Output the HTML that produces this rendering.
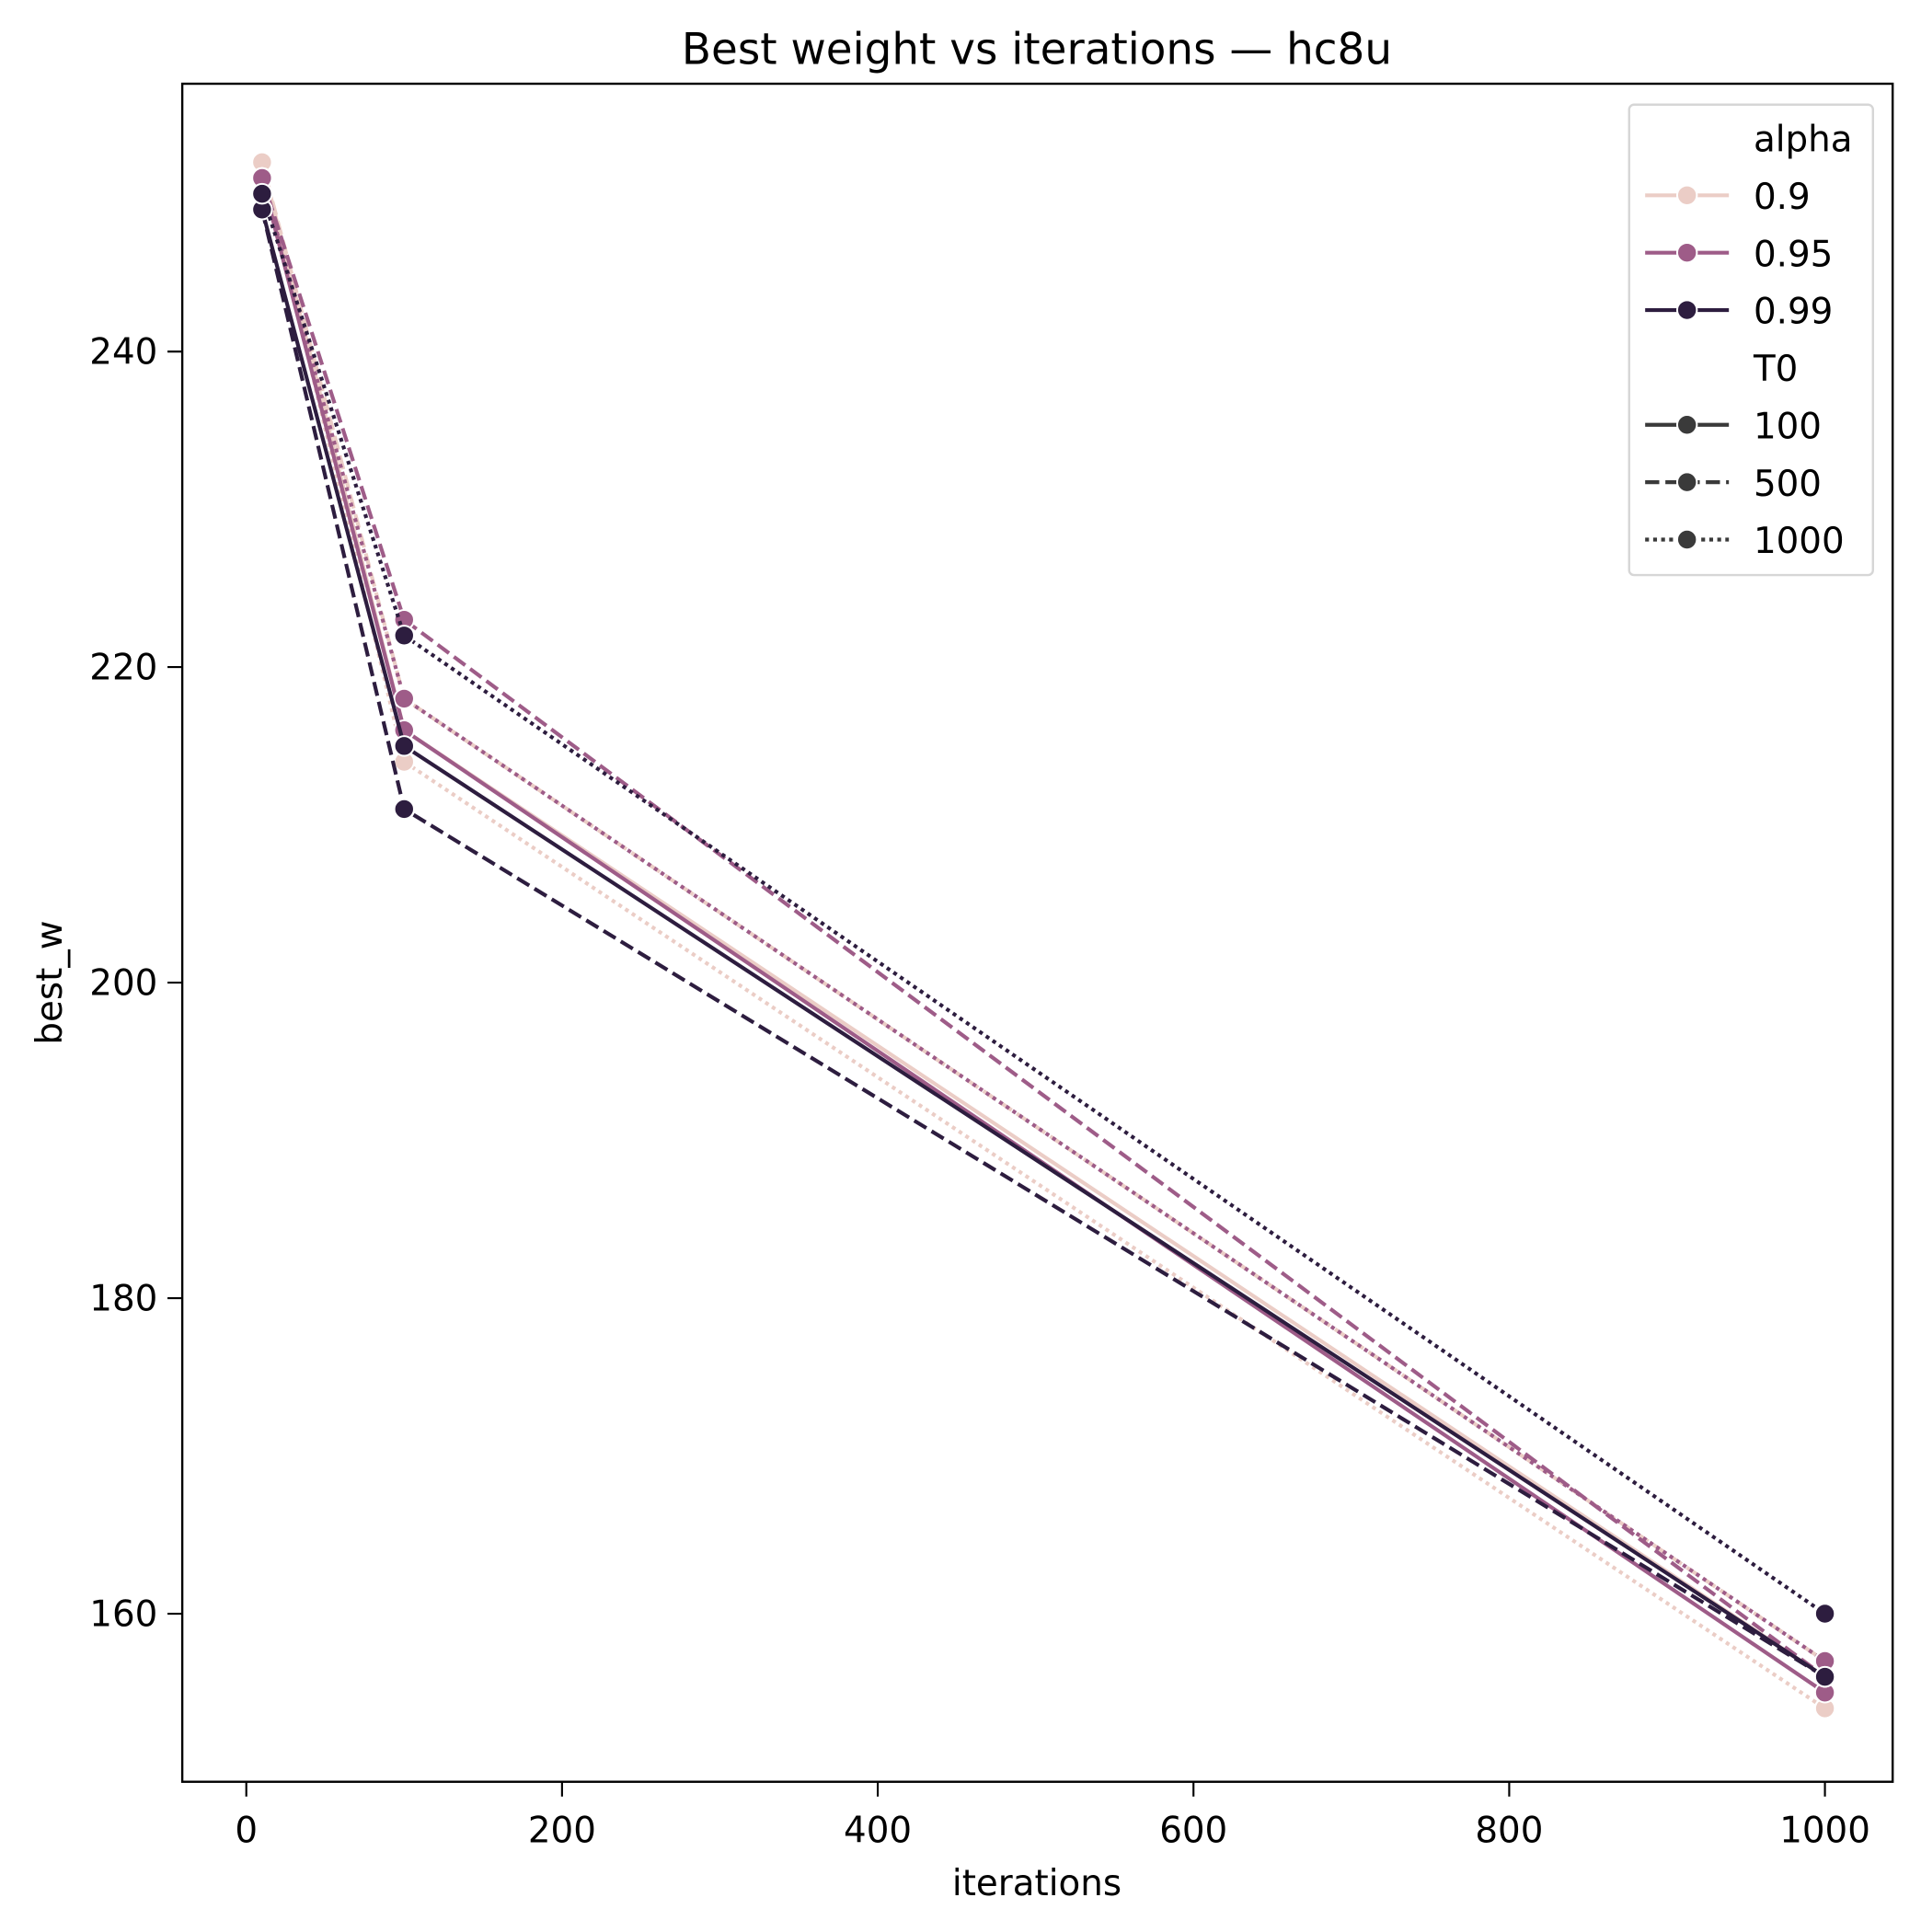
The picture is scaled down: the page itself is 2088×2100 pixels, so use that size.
<!DOCTYPE html>
<html><head><meta charset="utf-8"><style>
html,body{margin:0;padding:0;background:#fff}
svg{display:block}
text{font-family:"DejaVu Sans","Liberation Sans",sans-serif;fill:#000}
</style></head><body>
<svg id="chart" width="2088" height="2100" viewBox="0 0 1560 1569" xmlns="http://www.w3.org/2000/svg">
<rect x="0" y="0" width="1560" height="1569" fill="#fff"/>
<text x="842" y="52" font-size="35" text-anchor="middle">Best weight vs iterations — hc8u</text>
<g id="ticks"></g>
<g id="series"></g>
<rect x="148" y="68" width="1389" height="1379" fill="none" stroke="#000" stroke-width="1.8"/>
<text x="842" y="1539" font-size="29" text-anchor="middle">iterations</text>
<text x="50" y="798" font-size="29" text-anchor="middle" transform="rotate(-90 50 798)">best_w</text>
<g id="legend"></g>
</svg>
<script>
const xTicks = [0, 200, 400, 600, 800, 1000];
const yTicks = [160, 180, 200, 220, 240];
const iterations = [10, 100, 1000];
const alphas = ["0.9", "0.95", "0.99"];
const t0s = ["100", "500", "1000"];
const a09_t100 = [252, 216, 156];
const a09_t500 = [252, 218, 157];
const a09_t1000 = [252, 214, 154];
const a095_t100 = [251, 216, 155];
const a095_t500 = [251, 223, 156];
const a095_t1000 = [251, 218, 157];
const a099_t100 = [249, 215, 156];
const a099_t500 = [249, 211, 156];
const a099_t1000 = [250, 222, 160];
const seriesValues = [
  [a09_t100, a09_t500, a09_t1000],
  [a095_t100, a095_t500, a095_t1000],
  [a099_t100, a099_t500, a099_t1000]
];

const NS = "http://www.w3.org/2000/svg";
const colors = ["#ebcdc6", "#9e5c88", "#2d1d3f"];
const lw = 3.1;
const dashes = ["", (3.7*lw)+","+(1.6*lw), (1*lw)+","+(1.1*lw)];
function xs(v){ return 200 + (v - 0) * (1482 - 200) / 1000; }
function ys(v){ return 798 - (v - 200) * (1310 - 285) / 80; }

const tg = document.getElementById('ticks');
xTicks.forEach(t => {
  const l = document.createElementNS(NS, 'line');
  l.setAttribute('x1', xs(t)); l.setAttribute('x2', xs(t));
  l.setAttribute('y1', 1447); l.setAttribute('y2', 1459);
  l.setAttribute('stroke', '#000'); l.setAttribute('stroke-width', 1.6);
  
  
  tg.appendChild(l);
  const tx = document.createElementNS(NS, 'text');
  tx.setAttribute('x', xs(t)); tx.setAttribute('y', 1496);
  tx.setAttribute('font-size', 29); tx.setAttribute('text-anchor', 'middle');
  tx.textContent = t;
  
  
  tg.appendChild(tx);
});
yTicks.forEach(t => {
  const l = document.createElementNS(NS, 'line');
  l.setAttribute('x1', 136); l.setAttribute('x2', 148);
  l.setAttribute('y1', ys(t)); l.setAttribute('y2', ys(t));
  l.setAttribute('stroke', '#000'); l.setAttribute('stroke-width', 1.6);
  
  
  tg.appendChild(l);
  const tx = document.createElementNS(NS, 'text');
  tx.setAttribute('x', 128); tx.setAttribute('y', ys(t) + 10);
  tx.setAttribute('font-size', 29); tx.setAttribute('text-anchor', 'end');
  tx.textContent = t;
  
  
  tg.appendChild(tx);
});

const sg = document.getElementById('series');
seriesValues.forEach((row, ai) => {
  row.forEach((vals, ti) => {
    const p = document.createElementNS(NS, 'polyline');
    p.setAttribute('points', vals.map((v, i) => xs(iterations[i]) + ',' + ys(v)).join(' '));
    p.setAttribute('fill', 'none');
    p.setAttribute('stroke', colors[ai]);
    p.setAttribute('stroke-width', lw);
    if (dashes[ti]) p.setAttribute('stroke-dasharray', dashes[ti]);
    
    
    sg.appendChild(p);
    vals.forEach((v, i) => {
      const c = document.createElementNS(NS, 'circle');
      c.setAttribute('cx', xs(iterations[i])); c.setAttribute('cy', ys(v));
      c.setAttribute('r', 8);
      c.setAttribute('fill', colors[ai]);
      c.setAttribute('stroke', '#fff'); c.setAttribute('stroke-width', 1.5);
      
      
      sg.appendChild(c);
    });
  });
});

const lg = document.getElementById('legend');
const box = document.createElementNS(NS, 'rect');
box.setAttribute('x', 1323); box.setAttribute('y', 85);
box.setAttribute('width', 198); box.setAttribute('height', 382);
box.setAttribute('rx', 4); box.setAttribute('fill', '#fff');
box.setAttribute('stroke', '#d6d6d6'); box.setAttribute('stroke-width', 1.8);


lg.appendChild(box);
const entries = [
  {label:'alpha', title:true},
  {label:'0.9', color:colors[0], dash:''},
  {label:'0.95', color:colors[1], dash:''},
  {label:'0.99', color:colors[2], dash:''},
  {label:'T0', title:true},
  {label:'100', color:'#3a3a3a', dash:''},
  {label:'500', color:'#3a3a3a', dash:dashes[1]},
  {label:'1000', color:'#3a3a3a', dash:dashes[2]}
];
entries.forEach((e, i) => {
  const y = 112 + i * 46.6;
  if (!e.title) {
    const l = document.createElementNS(NS, 'line');
    l.setAttribute('x1', 1336); l.setAttribute('x2', 1404);
    l.setAttribute('y1', y); l.setAttribute('y2', y);
    l.setAttribute('stroke', e.color); l.setAttribute('stroke-width', lw);
    if (e.dash) l.setAttribute('stroke-dasharray', e.dash);
    
    
    lg.appendChild(l);
    const c = document.createElementNS(NS, 'circle');
    c.setAttribute('cx', 1370); c.setAttribute('cy', y); c.setAttribute('r', 8);
    c.setAttribute('fill', e.color); c.setAttribute('stroke', '#fff'); c.setAttribute('stroke-width', 1.5);
    
    
    lg.appendChild(c);
  }
  const t = document.createElementNS(NS, 'text');
  t.setAttribute('x', 1424); t.setAttribute('y', y + 11);
  t.setAttribute('font-size', 29);
  t.textContent = e.label;
  
  
  lg.appendChild(t);
});
</script>
</body></html>
